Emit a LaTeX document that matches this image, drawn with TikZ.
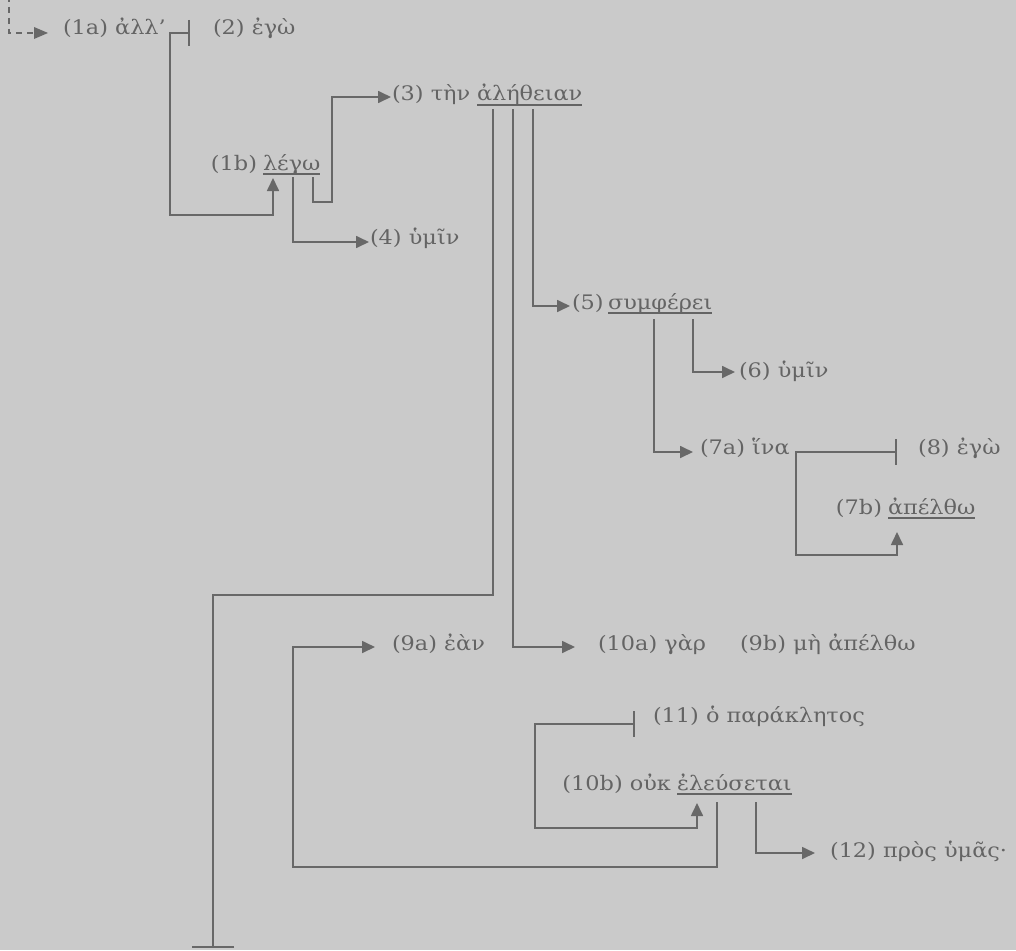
\documentclass[tikz,border=0pt]{standalone}
\usepackage{fontspec}
\setmainfont{DejaVu Serif}[FakeStretch=1.12]
\usetikzlibrary{arrows.meta}
\definecolor{bg}{RGB}{202,202,202}
\definecolor{ink}{RGB}{104,104,104}
\definecolor{txt}{RGB}{100,100,100}
\begin{document}
\begin{tikzpicture}[x=1pt,y=-1pt,
  ln/.style={draw=ink,line width=1.7pt},
  tri/.tip={Triangle[length=13pt,width=12pt]},
  arr/.style={ln,-tri},
  tb/.style={ln,{Bar[width=26pt]}-tri},
  lbl/.style={anchor=base west,inner sep=0pt,outer sep=0pt,text=txt,font=\fontsize{20}{24}\selectfont},
  ul/.style={draw=txt,line width=1.3pt}]
\fill[bg] (0,0) rectangle (1016,950);
\useasboundingbox (0,0) rectangle (1016,950);

% ---------- texts ----------
\node[lbl] (n1a) at (63,35) {(1a) ἀλλ’};
\node[lbl] (n2) at (213,35) {(2) ἐγὼ};
\node[lbl] (w1b) at (263,170) {λέγω};
\node[lbl,anchor=base east] (n1b) at ([xshift=-6pt]w1b.base west) {(1b)};
\node[lbl] (n3) at (392,100) {(3) τὴν};
\node[lbl] (w3) at (477,100) {ἀλήθειαν};
\node[lbl] (n4) at (370,244) {(4) ὑμῖν};
\node[lbl] (n5) at (572,309) {(5)};
\node[lbl] (w5) at (608,309) {συμφέρει};
\node[lbl] (n6) at (739,377) {(6) ὑμῖν};
\node[lbl] (n7a) at (700,454) {(7a) ἵνα};
\node[lbl] (n8) at (918,454) {(8) ἐγὼ};
\node[lbl] (w7b) at (888,514) {ἀπέλθω};
\node[lbl,anchor=base east] (n7b) at ([xshift=-6pt]w7b.base west) {(7b)};
\node[lbl] (n9a) at (392,650) {(9a) ἐὰν};
\node[lbl] (n10a) at (598,650) {(10a) γὰρ};
\node[lbl] (n9b) at (740,650) {(9b) μὴ ἀπέλθω};
\node[lbl] (n11) at (653,722) {(11) ὁ παράκλητος};
\node[lbl] (w10b) at (677,790) {ἐλεύσεται};
\node[lbl,anchor=base east] (n10b) at ([xshift=-6pt]w10b.base west) {(10b) οὐκ};
\node[lbl] (n12) at (830,857) {(12) πρὸς ὑμᾶς·};

% ---------- underlines ----------
\draw[ul] ([yshift=-4pt]w1b.base west) -- ([yshift=-4pt]w1b.base east);
\draw[ul] ([yshift=-5pt]w3.base west) -- ([yshift=-5pt]w3.base east);
\draw[ul] ([yshift=-4pt]w5.base west) -- ([yshift=-4pt]w5.base east);
\draw[ul] ([yshift=-4pt]w7b.base west) -- ([yshift=-4pt]w7b.base east);
\draw[ul] ([yshift=-4pt]w10b.base west) -- ([yshift=-4pt]w10b.base east);

% ---------- free ends ----------
\coordinate (top) at (9,-4);
\coordinate (bot) at (213,948);

% ---------- connectors ----------
\draw[ln,dashed,dash pattern=on 6pt off 5pt] (top) |- ([xshift=-26pt,yshift=2pt]n1a.base west);
\fill[ink] ([xshift=-15pt,yshift=2pt]n1a.base west) -- ++(-14,-6) -- ++(0,12) -- cycle;

\draw[tb] ([xshift=-23pt,yshift=2pt]n2.base west) -- (170,33) -- (170,215) -| ([xshift=10pt,yshift=-8pt]w1b.base west);
\draw[arr] ([xshift=30pt,yshift=-7pt]w1b.base west) |- ([xshift=-1pt,yshift=2pt]n4.base west);
\draw[arr] ([xshift=50pt,yshift=-7pt]w1b.base west) |- (332,202) |- ([xshift=-1pt,yshift=3pt]n3.base west);

\draw[ln,-{Bar[width=42pt]}] ([xshift=16pt,yshift=-9pt]w3.base west) |- (213,595) -- (bot);
\draw[arr] ([xshift=36pt,yshift=-9pt]w3.base west) |- ([xshift=-23pt,yshift=3pt]n10a.base west);
\draw[arr] ([xshift=56pt,yshift=-9pt]w3.base west) |- ([xshift=-2pt,yshift=3pt]n5.base west);

\draw[arr] ([xshift=46pt,yshift=-10pt]w5.base west) |- ([xshift=-7pt,yshift=2pt]n7a.base west);
\draw[arr] ([xshift=85pt,yshift=-10pt]w5.base west) |- ([xshift=-4pt,yshift=5pt]n6.base west);

\draw[tb] ([xshift=-21pt,yshift=2pt]n8.base west) -- (796,452) -- (796,555) -| ([xshift=9pt,yshift=-18pt]w7b.base west);

\draw[tb] ([xshift=-18pt,yshift=-2pt]n11.base west) -- (535,724) -- (535,828) -| ([xshift=20pt,yshift=-13pt]w10b.base west);
\draw[arr] ([xshift=40pt,yshift=-12pt]w10b.base west) |- (293,867) |- ([xshift=-17pt,yshift=3pt]n9a.base west);
\draw[arr] ([xshift=79pt,yshift=-12pt]w10b.base west) |- ([xshift=-15pt,yshift=4pt]n12.base west);
\end{tikzpicture}
\end{document}
